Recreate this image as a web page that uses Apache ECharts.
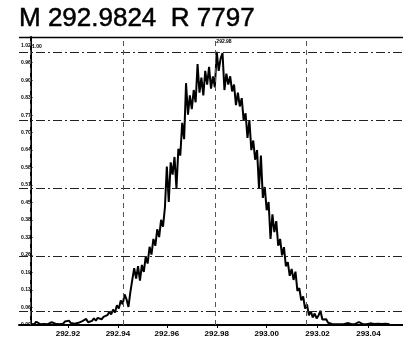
<!DOCTYPE html>
<html>
<head>
<meta charset="utf-8">
<script src="https://cdn.jsdelivr.net/npm/echarts@6/dist/echarts.min.js"></script>
<style>
html,body{margin:0;padding:0;background:#fff;}
#chart{width:403px;height:338px;}
</style>
</head>
<body>
<div id="chart"></div>
<script>
const titleText = 'M 292.9824  R 7797';
// relative intensity (% of base peak), one sample per step
const intensity = [
0.4,0.8,0.3,1.2,0.5,0.3,0.7,0.4,0.9,0.3,
0.6,1.0,0.4,0.5,0.9,0.3,0.7,0.5,1.3,0.6,
1.6,0.7,0.9,0.5,1.1,0.8,0.6,1.4,0.9,2.2,
1.0,0.8,1.5,2.4,1.6,2.6,3.2,2.1,3.0,2.4,
3.6,4.8,3.9,5.6,4.6,7.2,6.0,9.0,7.6,11.2,
9.4,6.6,12.0,16.5,20.8,17.0,21.5,16.2,22.0,19.4,
25.0,22.5,28.6,25.8,31.5,29.0,35.0,32.2,38.5,36.0,
43.0,58.0,45.0,59.5,55.0,61.5,50.0,64.5,62.0,74.0,
68.0,88.5,77.0,84.0,79.0,86.0,81.5,95.5,85.0,90.5,
84.0,93.0,88.0,94.5,86.5,91.0,87.0,100.0,93.0,97.5,
99.5,86.0,92.0,88.0,91.0,85.5,88.0,80.5,85.0,80.0,
83.0,75.0,77.5,68.5,75.0,64.0,67.5,60.5,64.0,50.0,
62.0,46.5,50.5,42.0,45.0,31.5,40.5,34.0,38.0,29.0,
31.5,25.5,28.5,21.5,23.0,18.0,20.5,16.5,19.5,12.5,
13.5,9.0,10.5,6.0,7.5,3.5,5.0,2.8,4.2,2.4,
3.5,5.2,2.0,1.4,2.1,0.8,1.0,0.4,0.6,0.3,
0.5,0.3,0.6,0.3,0.4,0.7,0.3,0.4,0.5,0.3,
0.6,1.1,0.4,0.3,0.5,0.3,0.4,0.6,0.3,0.4,
0.3,0.5,0.9,0.4,0.3,0.5,0.4,0.3
];
const xTickPos = [19.5, 45.5, 71, 97, 123, 149.5, 176];
const xTickLabels = ['292.92','292.94','292.96','292.98','293.00','293.02','293.04'];
const yGuideLevels = [5, 25, 50, 75, 100];
const xGuidePos = [0, 48.5, 96, 143.5];
const peakLabel = '292.98';
const topLabel = '1.00';

const chart = echarts.init(document.getElementById('chart'), null, {renderer:'canvas'});
const seriesData = intensity.map((v, i) => [i, v]);

const markData = [];
yGuideLevels.forEach(v => markData.push({yAxis: v, lineStyle:{color:'#222', width:1, type:[9,3,2,3]}}));
xGuidePos.forEach(v => markData.push({xAxis: v, lineStyle:{color:'#555', width:1, type:[5,4]}}));

chart.setOption({
  animation: false,
  backgroundColor: '#fff',
  grid: {left: 19, right: -16, top: 37, bottom: 7, containLabel: false},
  xAxis: {
    type: 'value', min: -6, max: 194,
    axisLine: {show: true, lineStyle: {color: '#000', width: 2}},
    axisTick: {show: true, customValues: xTickPos, length: 3, lineStyle:{color:'#000'}},
    axisLabel: {
      customValues: xTickPos, fontSize: 8, color: '#000', margin: 5, fontWeight: 'bold',
      fontFamily: 'Liberation Sans',
      formatter: v => { const k = xTickPos.indexOf(v); return k >= 0 ? xTickLabels[k] : ''; }
    },
    splitLine: {show: false}
  },
  yAxis: {
    type: 'value', min: 0, max: 105.4, interval: 6.4,
    axisLine: {show: true, lineStyle: {color: '#000', width: 2}},
    axisTick: {show: true, inside: true, length: 2, lineStyle:{color:'#000'}},
    axisLabel: {
      inside: true, fontSize: 5, fontWeight: 'bold', color: '#000', margin: 2,
      fontFamily: 'Liberation Sans', showMaxLabel: false,
      formatter: v => (v / 100).toFixed(2)
    },
    splitLine: {show: false}
  },
  series: [{
    type: 'line',
    data: seriesData,
    showSymbol: false,
    symbol: 'none',
    lineStyle: {color: '#000', width: 2},
    markLine: {silent: true, symbol: 'none', label: {show: false}, data: markData}
  }],
  graphic: [
    {type:'line', shape:{x1:19, y1:37.5, x2:403, y2:37.5}, style:{stroke:'#000', lineWidth:1.5}},
    {type:'text', x:19, y:32, style:{text:titleText, font:'26px "Liberation Sans"', fill:'#000', stroke:'#000', lineWidth:0.5, textVerticalAlign:'bottom'}},
    {type:'text', x:32, y:44, style:{text:topLabel, font:'bold 5px "Liberation Sans"', fill:'#000'}},
    {type:'text', x:224, y:39, style:{text:peakLabel, font:'bold 5px "Liberation Sans"', fill:'#000', textAlign:'center'}}
  ]
});
</script>
</body>
</html>
